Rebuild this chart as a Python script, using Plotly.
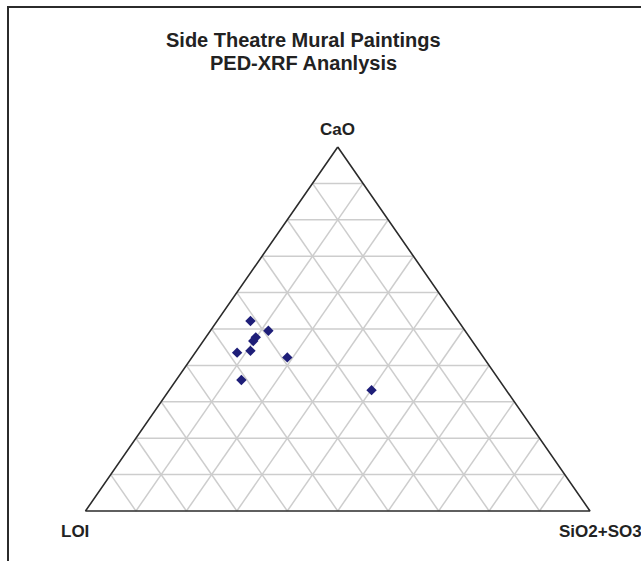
import plotly.graph_objects as go

# Composition of each sample (percent)
cao = [52.2, 49.5, 47.7, 46.7, 43.5, 44.0, 42.2, 36.0, 33.2]
sio2_so3 = [6.6, 11.5, 9.9, 9.9, 8.3, 10.7, 18.9, 12.9, 40.1]
loi = [41.2, 39.0, 42.4, 43.4, 48.2, 45.3, 38.9, 51.1, 26.7]

apex_labels = ["CaO", "LOI", "SiO2+SO3"]
title_lines = ["Side Theatre Mural Paintings", "PED-XRF Ananlysis"]

W, H = 641, 561
FONT = "Liberation Sans, Arial, sans-serif"


def to_xy(c, s, l):
    """Ternary (CaO, SiO2+SO3, LOI) -> unit triangle coordinates."""
    tot = c + s + l
    c, s = c / tot, s / tot
    return s + c / 2.0, c


fig = go.Figure()

# 10 % grid
gx, gy = [], []
for i in range(1, 10):
    f = i / 10.0
    for a, b in (
        ((f, 0, 1 - f), (f, 1 - f, 0)),   # constant CaO
        ((0, f, 1 - f), (1 - f, f, 0)),   # constant SiO2+SO3
        ((0, 1 - f, f), (1 - f, 0, f)),   # constant LOI
    ):
        x0, y0 = to_xy(*a)
        x1, y1 = to_xy(*b)
        gx += [x0, x1, None]
        gy += [y0, y1, None]
fig.add_trace(go.Scatter(x=gx, y=gy, mode="lines", hoverinfo="skip",
                         line=dict(color="#cdcdcd", width=1.5)))

# Triangle outline
ox, oy = zip(*[to_xy(1, 0, 0), to_xy(0, 0, 1), to_xy(0, 1, 0), to_xy(1, 0, 0)])
fig.add_trace(go.Scatter(x=list(ox), y=list(oy), mode="lines", hoverinfo="skip",
                         line=dict(color="#2b2b2b", width=1.6)))

# Samples
px, py = zip(*[to_xy(c, s, l) for c, s, l in zip(cao, sio2_so3, loi)])
fig.add_trace(go.Scatter(x=list(px), y=list(py), mode="markers",
                         marker=dict(symbol="diamond", size=8, color="#1e1e78")))

# Map the unit triangle onto the page
x_lo, x_hi = 85.5, 590.0
y_bot, y_top = 511.0, 147.0
xs = (x_hi - x_lo)
ys = (y_bot - y_top)
x_range = [-x_lo / xs, (W - x_lo) / xs]
y_range = [-(H - y_bot) / ys, y_bot / ys]


def page(xp, yp):
    return xp / W, 1 - yp / H


annotations = []
for txt, ypix in zip(title_lines, [40, 63]):
    ax, ay = page(303, ypix)
    annotations.append(dict(x=ax, y=ay, xref="paper", yref="paper",
                            text="<b>" + txt + "</b>", showarrow=False,
                            xanchor="center", yanchor="middle",
                            font=dict(family=FONT, size=20, color="#222222")))
for txt, (xp, yp, anc) in zip(apex_labels, [(338, 130, "center"), (59, 531, "left"),
                                             (557, 531, "left")]):
    ax, ay = page(xp, yp)
    annotations.append(dict(x=ax, y=ay, xref="paper", yref="paper",
                            text="<b>" + txt + "</b>", showarrow=False,
                            xanchor=anc, yanchor="middle",
                            font=dict(family=FONT, size=17, color="#222222")))

bx0, by0 = page(8, 7)
bx1, by1 = page(700, 620)
fig.update_layout(
    width=W, height=H, autosize=False,
    margin=dict(l=0, r=0, t=0, b=0),
    paper_bgcolor="white", plot_bgcolor="white",
    showlegend=False,
    xaxis=dict(range=x_range, visible=False, fixedrange=True),
    yaxis=dict(range=y_range, visible=False, fixedrange=True),
    annotations=annotations,
    shapes=[dict(type="rect", xref="paper", yref="paper",
                 x0=bx0, y0=by1, x1=bx1, y1=by0,
                 line=dict(color="#2b2b2b", width=2))],
)

fig.write_html("out.html")
